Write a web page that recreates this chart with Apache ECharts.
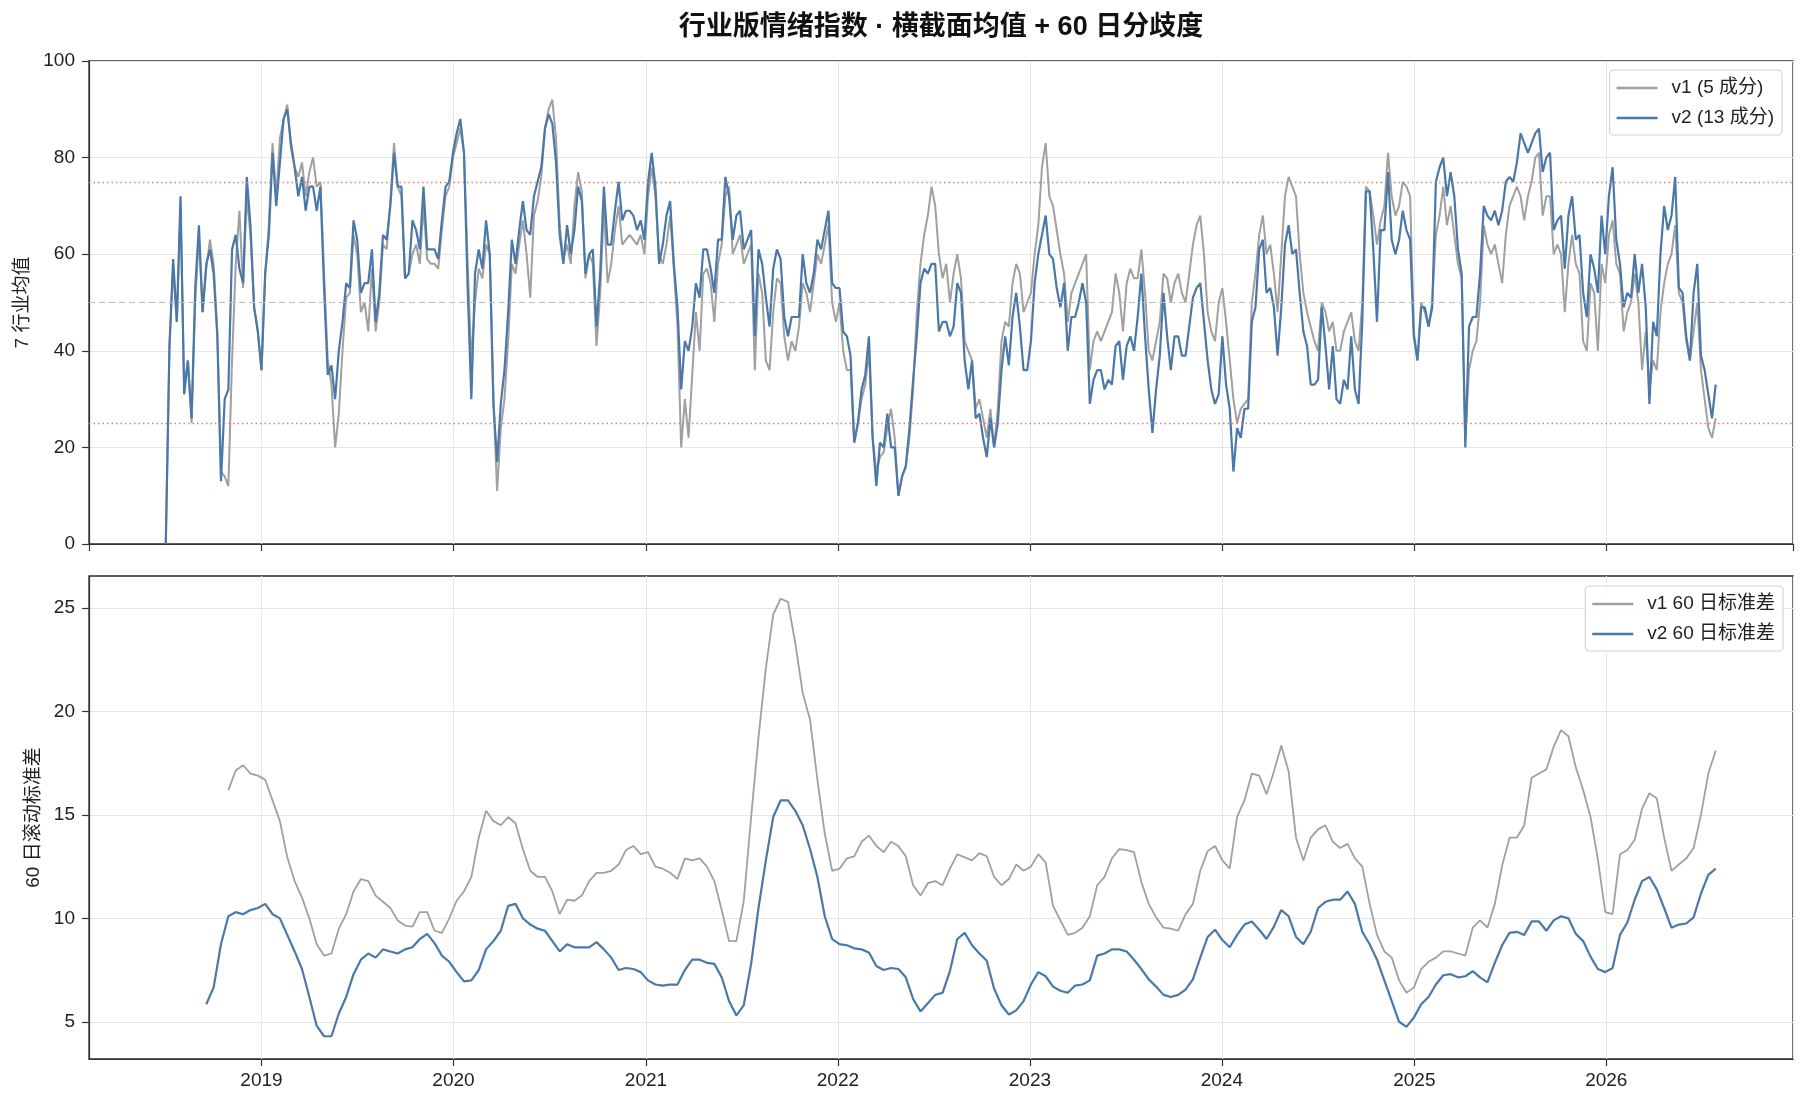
<!DOCTYPE html>
<html>
<head>
<meta charset="utf-8">
<script src="https://cdn.jsdelivr.net/npm/echarts@6/dist/echarts.min.js"></script>
<style>
  html, body { margin: 0; padding: 0; background: #fff; }
  #chart { width: 1806px; height: 1106px; }
</style>
</head>
<body>
<div id="chart"></div>
<script>
// 上图：周频 7 行业均值（从 2018-07-03 起每 7 天一个点）
const meanStart = '2018-07-03';
const v1Mean = [
  0,41,57,46,70,32,38,25,50,64,
  48,57,63,58,44,15,14,12,38,58,
  69,53,72,64,49,44,36,56,66,83,
  72,84,88,91,82,78,76,79,72,77,
  80,74,75,56,38,33,20,27,40,51,
  52,64,60,48,50,44,57,44,50,62,
  61,71,83,74,72,55,56,60,62,58,
  70,59,58,58,57,65,72,74,80,83,
  86,81,58,38,50,57,55,62,60,30,
  11,24,30,42,58,56,62,67,60,51,
  68,71,76,86,90,92,84,66,59,62,
  58,70,77,73,55,60,58,41,52,70,
  54,58,65,70,62,63,64,63,62,64,
  60,72,78,72,60,58,62,68,57,45,
  20,30,22,35,48,40,56,57,54,46,
  58,62,72,74,60,62,64,58,60,62,
  36,56,52,38,36,48,55,54,43,38,
  42,40,45,54,52,48,54,60,58,62,
  66,50,46,50,40,36,36,21,25,30,
  33,40,22,15,18,19,24,28,22,10,
  14,16,22,32,48,58,64,68,74,70,
  60,55,58,50,56,60,55,42,40,38,
  28,30,26,22,28,20,28,42,46,45,
  54,58,56,48,50,52,60,66,78,83,
  72,70,65,60,56,46,52,54,56,58,
  60,36,42,44,42,44,46,48,56,52,
  44,54,57,55,55,61,52,40,38,42,
  46,56,55,50,54,56,52,50,56,62,
  66,68,60,48,44,42,50,53,46,38,
  30,25,28,29,30,50,56,64,68,60,
  62,56,48,60,72,76,74,72,60,52,
  48,45,42,40,50,48,44,46,40,40,
  44,46,48,42,40,50,74,73,68,62,
  67,70,81,72,68,70,75,74,72,44,
  38,50,48,45,50,64,68,74,66,70,
  64,58,55,22,36,40,42,50,66,62,
  60,62,58,54,64,70,72,74,72,67,
  72,75,80,81,68,72,72,60,62,60,
  48,58,64,58,56,42,40,54,52,40,
  58,54,64,67,58,56,44,48,50,56,
  50,36,44,32,38,36,48,54,58,60,
  66,52,50,42,38,44,50,36,30,24,
  22,26
];
const v2Mean = [
  0,41,59,46,72,31,38,26,53,66,
  48,58,61,56,43,13,30,32,61,64,
  57,54,76,66,49,44,36,56,64,81,
  70,79,88,90,83,78,72,76,69,74,
  74,69,74,53,35,37,30,40,46,54,
  53,67,63,52,54,54,61,46,52,64,
  63,70,81,74,74,55,56,67,65,61,
  74,61,61,61,59,67,74,75,81,85,
  88,81,53,30,56,61,57,67,60,29,
  17,29,36,48,63,58,65,71,65,64,
  72,75,78,86,89,87,79,64,58,66,
  60,65,74,71,56,60,61,45,56,74,
  62,62,69,75,67,69,69,68,65,67,
  63,75,81,74,58,62,68,71,58,49,
  32,42,40,45,54,51,61,61,57,52,
  63,63,76,72,63,68,69,61,63,65,
  43,61,58,51,45,57,61,59,47,43,
  47,47,47,60,54,52,56,63,61,65,
  69,54,53,53,44,43,39,21,25,32,
  35,43,22,12,21,20,27,20,20,10,
  14,16,24,34,43,54,57,56,58,58,
  44,46,46,43,45,54,52,38,32,38,
  26,27,22,18,26,20,25,36,43,37,
  47,52,45,36,36,42,54,60,64,68,
  60,59,53,49,54,40,47,47,50,54,
  50,29,34,36,36,32,34,33,41,42,
  34,41,43,40,47,56,43,32,23,32,
  39,52,43,36,43,43,39,39,45,51,
  53,54,46,38,32,29,31,43,33,28,
  15,24,22,28,28,46,49,61,63,52,
  53,49,39,49,62,66,60,61,52,44,
  41,33,33,34,49,41,32,41,30,29,
  34,32,43,32,29,46,73,73,61,46,
  65,65,77,63,60,63,69,65,63,43,
  38,49,49,45,49,75,78,80,72,77,
  72,61,56,20,45,47,47,56,70,68,
  67,69,66,69,75,76,75,79,85,83,
  81,83,85,86,77,80,81,65,67,68,
  57,68,72,63,64,52,47,60,57,52,
  68,60,72,78,63,58,49,52,51,60,
  52,58,49,29,46,43,60,70,65,68,
  76,53,52,43,38,52,58,39,36,31,
  26,33
];

// 下图：60 日滚动标准差（从 2018-09-18 起每 14 天一个点）
const stdStart = '2018-09-18';
const v1Std = [
  null,null,null,16.2,17.15,17.4,17.0,16.9,16.7,15.7,
  14.7,12.95,11.8,11.0,10.0,8.75,8.2,8.3,9.5,10.2,
  11.3,11.9,11.8,11.1,10.8,10.5,9.9,9.65,9.6,10.3,
  10.3,9.4,9.3,10.0,10.85,11.3,12.0,13.9,15.2,14.7,
  14.5,14.9,14.6,13.35,12.3,12.0,12.0,11.3,10.2,10.9,
  10.85,11.1,11.8,12.2,12.2,12.3,12.6,13.3,13.5,13.1,
  13.2,12.5,12.4,12.2,11.9,12.9,12.8,12.9,12.5,11.8,
  10.4,8.9,8.9,10.85,14.9,18.75,22.1,24.7,25.45,25.3,
  23.3,20.9,19.6,16.7,14.1,12.3,12.4,12.9,13.0,13.7,
  14.0,13.5,13.2,13.7,13.5,13.0,11.6,11.1,11.7,11.8,
  11.6,12.4,13.1,12.95,12.8,13.15,13.0,12.0,11.6,11.9,
  12.6,12.3,12.5,13.1,12.7,10.6,9.9,9.2,9.3,9.55,
  10.1,11.6,12.0,12.9,13.35,13.3,13.2,11.75,10.7,10.05,
  9.55,9.5,9.4,10.2,10.7,12.3,13.25,13.5,12.8,12.4,
  14.9,15.7,17.0,16.9,16.0,17.1,18.35,17.1,13.9,12.8,
  13.9,14.3,14.5,13.7,13.4,13.6,12.9,12.5,10.7,9.2,
  8.4,8.1,7.0,6.4,6.65,7.55,7.9,8.1,8.4,8.4,
  8.3,8.2,9.55,9.9,9.55,10.7,12.55,13.9,13.9,14.5,
  16.8,17.0,17.2,18.3,19.1,18.8,17.3,16.2,14.9,12.85,
  10.3,10.2,13.1,13.3,13.8,15.3,16.05,15.8,13.9,12.3,
  12.6,12.9,13.4,15.0,17.0,18.1
];
const v2Std = [
  5.85,6.66,8.76,10.1,10.3,10.2,10.4,10.5,10.7,10.2,
  10.0,9.2,8.4,7.55,6.2,4.8,4.3,4.3,5.4,6.2,
  7.3,8.0,8.3,8.1,8.5,8.4,8.3,8.5,8.6,9.0,
  9.25,8.8,8.2,7.9,7.4,6.95,7.0,7.5,8.5,8.9,
  9.4,10.6,10.7,10.0,9.7,9.5,9.4,8.9,8.4,8.75,
  8.6,8.6,8.6,8.85,8.5,8.1,7.5,7.6,7.55,7.4,
  7.0,6.8,6.75,6.8,6.8,7.5,8.0,8.0,7.85,7.8,
  7.15,6.0,5.3,5.8,7.8,10.5,12.8,14.9,15.7,15.7,
  15.2,14.5,13.35,12.0,10.1,9.0,8.75,8.7,8.55,8.5,
  8.35,7.7,7.5,7.6,7.55,7.15,6.1,5.5,5.9,6.3,
  6.4,7.45,9.0,9.3,8.7,8.3,7.95,6.6,5.8,5.35,
  5.55,6.0,6.8,7.4,7.2,6.7,6.5,6.4,6.75,6.8,
  7.0,8.2,8.3,8.5,8.5,8.4,8.0,7.55,7.05,6.7,
  6.3,6.2,6.3,6.55,7.05,8.1,9.1,9.45,8.95,8.6,
  9.2,9.7,9.85,9.45,9.0,9.6,10.4,10.1,9.1,8.75,
  9.35,10.5,10.8,10.9,10.9,11.3,10.7,9.35,8.75,8.0,
  7.0,6.0,5.0,4.75,5.2,5.85,6.2,6.8,7.25,7.3,
  7.15,7.2,7.45,7.15,6.9,7.85,8.7,9.3,9.35,9.2,
  9.85,9.85,9.4,9.9,10.1,10.0,9.25,8.9,8.15,7.55,
  7.4,7.6,9.2,9.8,10.9,11.8,12.0,11.4,10.5,9.55,
  9.7,9.75,10.05,11.2,12.1,12.4
];

const refLines = { upper: 75, mid: 50, lower: 25 };
const stdTicks = [5, 10, 15, 20, 25];

const FONT = '"Liberation Sans", "Noto Sans CJK SC", sans-serif';
const GRAY = '#a0a0a0';
const BLUE = '#4a78a8';

function dateSeq(start, n, stepDays) {
  const p = start.split('-').map(Number);
  const base = Date.UTC(p[0], p[1] - 1, p[2]);
  const out = [];
  for (let i = 0; i < n; i++) {
    out.push(new Date(base + i * stepDays * 864e5).toISOString().slice(0, 10));
  }
  return out;
}
const meanDates = dateSeq(meanStart, v2Mean.length, 7);
const stdDates = dateSeq(stdStart, v2Std.length, 14);
const pair = (dates, vals) => dates.map((d, i) => [d, vals[i]]);

const xMin = new Date(2018, 1, 7).getTime();
const xMax = new Date(2026, 11, 22).getTime();
const YEAR = 365 * 864e5;

function xAxisCfg(idx, showLabel) {
  return {
    type: 'time', gridIndex: idx, min: xMin, max: xMax,
    minInterval: YEAR, maxInterval: YEAR + 2 * 864e5,
    axisLine: { show: true, lineStyle: { color: '#333', width: 1.2 } },
    axisTick: { show: true, length: 7, lineStyle: { color: '#333', width: 1.2 } },
    splitLine: { show: true, lineStyle: { color: '#e6e6e6', width: 1 } },
    axisLabel: {
      show: showLabel, fontSize: 19, color: '#222', fontFamily: FONT, margin: 12,
      hideOverlap: false,
      formatter: function (val) {
        const d = new Date(val);
        return (d.getMonth() === 0 && d.getDate() === 1) ? String(d.getFullYear()) : '';
      }
    }
  };
}
function yAxisCfg(idx, name, gap, extra) {
  return Object.assign({
    type: 'value', gridIndex: idx, name: name,
    nameLocation: 'middle', nameGap: gap, nameRotate: 90,
    nameTextStyle: { fontSize: 19, color: '#222', fontFamily: FONT },
    axisLine: { show: true, lineStyle: { color: '#333', width: 1.2 } },
    axisTick: { show: true, length: 7, lineStyle: { color: '#333', width: 1.2 } },
    splitLine: { show: true, lineStyle: { color: '#e6e6e6', width: 1 } },
    axisLabel: { fontSize: 19, color: '#222', fontFamily: FONT, margin: 14 }
  }, extra);
}
function legendCfg(names, right, top) {
  return {
    show: true, orient: 'vertical', right: right, top: top, data: names,
    icon: 'rect', itemWidth: 41, itemHeight: 2.5, itemGap: 8, padding: [7, 8, 6, 7],
    backgroundColor: 'rgba(255,255,255,0.85)', borderColor: '#d4d4d4',
    borderWidth: 1.2, borderRadius: 4, selectedMode: false,
    textStyle: { fontSize: 19, color: '#222', fontFamily: FONT, lineHeight: 22, padding: [0, 0, 0, 9] }
  };
}
function lineSeries(name, x, y, data, color, width, z) {
  return {
    name: name, type: 'line', xAxisIndex: x, yAxisIndex: y, data: data,
    symbol: 'none', showSymbol: false, connectNulls: false, z: z,
    lineStyle: { color: color, width: width }, itemStyle: { color: color }
  };
}

const chart = echarts.init(document.getElementById('chart'), null, { renderer: 'canvas' });
chart.setOption({
  backgroundColor: '#fff',
  animation: false,
  textStyle: { fontFamily: FONT },
  graphic: [{
    type: 'text', x: 941, y: 28,
    style: {
      text: '行业版情绪指数 · 横截面均值 + 60 日分歧度',
      fontSize: 27, fontWeight: 'bold', fill: '#111',
      fontFamily: FONT,
      textAlign: 'center', textVerticalAlign: 'middle'
    }
  }],
  grid: [
    { left: 89, right: 13, top: 61, height: 483, show: true, borderColor: '#2b2b2b', borderWidth: 1.3, outerBoundsMode: 'none' },
    { left: 89, right: 13, top: 576, height: 483, show: true, borderColor: '#2b2b2b', borderWidth: 1.3, outerBoundsMode: 'none' }
  ],
  legend: [
    legendCfg(['v1 (5 成分)', 'v2 (13 成分)'], 24, 70),
    legendCfg(['v1 60 日标准差', 'v2 60 日标准差'], 23, 586)
  ],
  xAxis: [xAxisCfg(0, false), xAxisCfg(1, true)],
  yAxis: [
    yAxisCfg(0, '7 行业均值', 49, { min: 0, max: 100, interval: 20 }),
    yAxisCfg(1, '60 日滚动标准差', 46, {
      min: 3.2, max: 26.55,
      axisTick: { show: true, length: 7, customValues: stdTicks, lineStyle: { color: '#333', width: 1.2 } },
      axisLabel: {
        fontSize: 19, color: '#222', fontFamily: FONT, margin: 14, customValues: stdTicks,
        formatter: v => (Math.abs(v % 5) < 1e-9 ? String(v) : '')
      }
    })
  ],
  series: [
    {
      name: 'ref', type: 'line', xAxisIndex: 0, yAxisIndex: 0, data: [], z: 1,
      markLine: {
        silent: true, symbol: 'none', label: { show: false },
        data: [
          { yAxis: refLines.upper, lineStyle: { type: [1.5, 3], color: '#d0837b', width: 1.3 } },
          { yAxis: refLines.lower, lineStyle: { type: [1.5, 3], color: '#d0837b', width: 1.3 } },
          { yAxis: refLines.mid, lineStyle: { type: [6, 4], color: '#bdbdbd', width: 1 } }
        ]
      }
    },
    lineSeries('v1 (5 成分)', 0, 0, pair(meanDates, v1Mean), GRAY, 2, 3),
    lineSeries('v2 (13 成分)', 0, 0, pair(meanDates, v2Mean), BLUE, 2.2, 4),
    lineSeries('v1 60 日标准差', 1, 1, pair(stdDates, v1Std), GRAY, 1.8, 3),
    lineSeries('v2 60 日标准差', 1, 1, pair(stdDates, v2Std), BLUE, 2.2, 4)
  ]
});
</script>
</body>
</html>
